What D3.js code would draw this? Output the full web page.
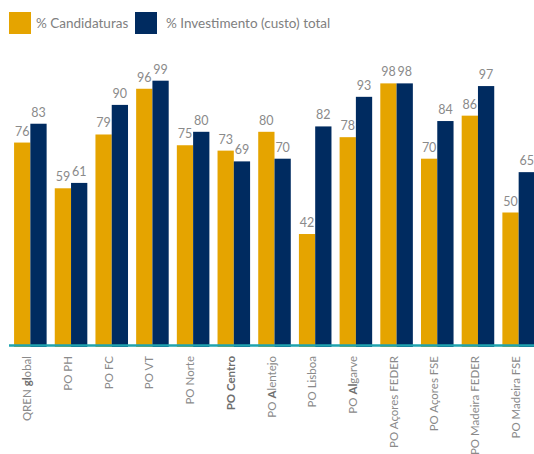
<!DOCTYPE html>
<html><head><meta charset="utf-8">
<script src="https://cdn.jsdelivr.net/npm/d3@7"></script>
<style>
html,body{margin:0;padding:0;background:#fff;}
svg{display:block;font-family:Lato,"Open Sans",sans-serif;}
</style></head>
<body><svg id="c" width="534" height="454"></svg>
<script>
const categories = ["QREN global","PO PH","PO FC","PO VT","PO Norte","PO Centro","PO Alentejo","PO Lisboa","PO Algarve","PO Açores FEDER","PO Açores FSE","PO Madeira FEDER","PO Madeira FSE"];
const candidaturas = [76,59,79,96,75,73,80,42,78,98,70,86,50];
const investimento = [83,61,90,99,80,69,70,82,93,98,84,97,65];
const seriesNames = ["% Candidaturas","% Investimento (custo) total"];
const emphasis = {"QREN global":"gl","PO Centro":"PO Centro","PO Alentejo":"A","PO Algarve":"Al"};

const colors = ["#E5A400","#002B60"];
const svg = d3.select("#c");

const x = d3.scaleBand().domain(categories).range([10,539]).paddingInner(0.2).paddingOuter(0.1);
const xs = d3.scaleBand().domain([0,1]).range([0,x.bandwidth()]);
const y = d3.scaleLinear().domain([0,100]).range([347,78]);

const series = [candidaturas, investimento];
series.forEach((vals,si)=>{
  const g = svg.append("g");
  g.selectAll("rect").data(vals).join("rect")
    .attr("x",(d,i)=>x(categories[i])+xs(si))
    .attr("y",d=>y(d))
    .attr("width",xs.bandwidth())
    .attr("height",d=>y(0)-y(d))
    .attr("fill",colors[si]);
  g.selectAll("text").data(vals).join("text")
    .attr("x",(d,i)=>x(categories[i])+xs(si)+xs.bandwidth()/2)
    .attr("y",d=>y(d)-7)
    .attr("text-anchor","middle")
    .attr("font-size",12.5)
    .attr("fill","#8a8a8a")
    .text(d=>d);
});

// axis line
svg.append("line").attr("x1",9).attr("x2",534).attr("y1",345.5).attr("y2",345.5)
  .attr("stroke","#1FA3AF").attr("stroke-width",2.6);

// x labels
const lab = svg.append("g");
categories.forEach(c=>{
  const cx = x(c)+x.bandwidth()/2 + 1;
  const t = lab.append("text")
    .attr("transform",`translate(${cx},356) rotate(-90)`)
    .attr("text-anchor","end")
    .attr("font-size",11.5)
    .attr("fill","#8a8a8a");
  const e = emphasis[c];
  if(e){
    const k = c.indexOf(e);
    if(k>0) t.append("tspan").text(c.slice(0,k));
    t.append("tspan").attr("font-weight","bold").attr("fill","#6e6e6e").text(e);
    if(k+e.length<c.length) t.append("tspan").text(c.slice(k+e.length));
  } else t.text(c);
});

// legend
const lg = svg.append("g");
const legX = [9,135];
seriesNames.forEach((n,i)=>{
  lg.append("rect").attr("x",legX[i]).attr("y",12).attr("width",22).attr("height",22).attr("fill",colors[i]);
  lg.append("text").attr("x",legX[i]+27+ (i?4:0)).attr("y",28).attr("font-size",13.5).attr("fill","#808080").text(n);
});
</script></body></html>
